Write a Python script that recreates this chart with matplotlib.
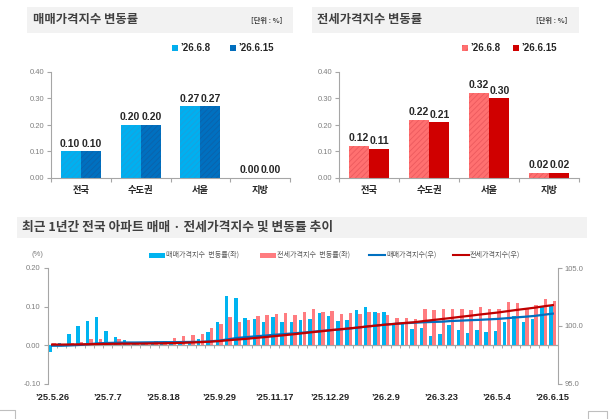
import numpy as np
import matplotlib
matplotlib.use("Agg")
import matplotlib.pyplot as plt
from matplotlib.patches import Rectangle
from matplotlib.lines import Line2D

plt.rcParams['font.family'] = ['Noto Sans CJK KR', 'DejaVu Sans']
plt.rcParams['hatch.linewidth'] = 0.6

W, H = 614, 419

# --- top charts data ---
regions = ["전국", "수도권", "서울", "지방"]
week_labels = ["’26.6.8", "’26.6.15"]
sale_prev = [0.10, 0.20, 0.27, 0.00]
sale_curr = [0.10, 0.20, 0.27, 0.00]
rent_prev = [0.12, 0.22, 0.32, 0.02]
rent_curr = [0.11, 0.21, 0.30, 0.02]

# --- bottom chart data (weekly, '25.5.26 ~ '26.6.15) ---
tick_idx = [0, 6, 12, 18, 24, 30, 36, 42, 48, 54]
tick_labels = ["’25.5.26", "’25.7.7", "’25.8.18", "’25.9.29", "’25.11.17",
               "’25.12.29", "’26.2.9", "’26.3.23", "’26.5.4", "’26.6.15"]
sale_chg = [-0.018, 0.005, 0.029, 0.049, 0.063, 0.073, 0.036, 0.021, 0.012, 0.005,
            0.009, 0.009, 0.008, 0.007, 0.006, 0.009, 0.016, 0.035, 0.059, 0.127,
            0.123, 0.070, 0.068, 0.060, 0.072, 0.059, 0.060, 0.064, 0.068, 0.082,
            0.075, 0.063, 0.065, 0.092, 0.098, 0.086, 0.085, 0.057, 0.057, 0.041,
            0.044, 0.023, 0.028, 0.052, 0.039, 0.032, 0.039, 0.034, 0.037, 0.061,
            0.075, 0.061, 0.068, 0.098, 0.101]
rent_chg = [0.005, 0.003, 0.005, 0.009, 0.015, 0.015, 0.007, 0.015, 0.005, 0.005,
            0.009, 0.010, 0.011, 0.019, 0.023, 0.026, 0.028, 0.044, 0.054, 0.074,
            0.061, 0.065, 0.076, 0.077, 0.081, 0.083, 0.078, 0.086, 0.094, 0.085,
            0.089, 0.081, 0.084, 0.081, 0.087, 0.082, 0.079, 0.070, 0.070, 0.067,
            0.093, 0.091, 0.094, 0.094, 0.093, 0.090, 0.100, 0.093, 0.093, 0.111,
            0.109, 0.096, 0.104, 0.120, 0.113]
sale_idx = [98.27, 98.27, 98.30, 98.34, 98.41, 98.48, 98.51, 98.53, 98.55, 98.55,
            98.56, 98.57, 98.58, 98.58, 98.59, 98.60, 98.61, 98.65, 98.71, 98.83,
            98.95, 99.02, 99.09, 99.15, 99.22, 99.28, 99.34, 99.40, 99.47, 99.55,
            99.62, 99.68, 99.75, 99.84, 99.94, 100.02, 100.11, 100.16, 100.22, 100.26,
            100.30, 100.33, 100.35, 100.41, 100.44, 100.48, 100.51, 100.55, 100.59, 100.65,
            100.72, 100.78, 100.85, 100.95, 101.05]
rent_idx = [98.37, 98.37, 98.38, 98.39, 98.40, 98.42, 98.43, 98.44, 98.45, 98.45,
            98.46, 98.47, 98.48, 98.50, 98.52, 98.55, 98.58, 98.62, 98.67, 98.75,
            98.81, 98.87, 98.95, 99.02, 99.10, 99.18, 99.26, 99.35, 99.44, 99.52,
            99.61, 99.69, 99.77, 99.85, 99.94, 100.02, 100.10, 100.17, 100.24, 100.30,
            100.40, 100.49, 100.58, 100.67, 100.77, 100.86, 100.96, 101.05, 101.14, 101.25,
            101.36, 101.46, 101.56, 101.68, 101.79]

GRAY = '#A6A6A6'
TXT = '#262626'
NUM_FONT = ['Liberation Sans Narrow', 'Liberation Sans', 'DejaVu Sans']


def fx(px):
    return px / W


def fy(py):
    return 1 - py / H


def px_axes(fig, x0, y0, x1, y1):
    return fig.add_axes([fx(x0), fy(y1), (x1 - x0) / W, (y1 - y0) / H])


fig = plt.figure(figsize=(W / 100, H / 100), dpi=100)


def title_bar(x0, x1, y0, y1, text, tx, size, unit=None, ux=None):
    fig.add_artist(Rectangle((fx(x0), fy(y1)), (x1 - x0) / W, (y1 - y0) / H,
                             transform=fig.transFigure, facecolor='#F2F2F2',
                             edgecolor='none', zorder=0))
    fig.text(fx(tx), fy((y0 + y1) / 2), text, fontsize=size, fontweight='bold',
             color='#404040', va='center', ha='left')
    if unit:
        fig.text(fx(ux), fy((y0 + y1) / 2), unit, fontsize=5.2, fontweight='bold',
                 color='#404040', va='center', ha='right')


def square_legend(items):
    for x, color, hatch_col, label in items:
        fig.add_artist(Rectangle((fx(x), fy(51)), 6 / W, 6 / H, transform=fig.transFigure,
                                 facecolor=color, edgecolor='none'))
        if hatch_col:
            fig.add_artist(Rectangle((fx(x), fy(51)), 6 / W, 6 / H, transform=fig.transFigure,
                                     facecolor='none', edgecolor=hatch_col, lw=0, hatch='////'))
        fig.text(fx(x + 8), fy(48), label, fontsize=7, fontweight='bold', color=TXT,
                 va='center', ha='left', family=NUM_FONT)


def hbar(ax, x, h, w, color, hatch_col):
    ax.bar(x, h, w, color=color, zorder=2)
    if hatch_col:
        ax.bar(x, h, w, facecolor='none', edgecolor=hatch_col, lw=0, hatch='//////', zorder=3)


def top_chart(ax, prev, curr, c1, h1, c2, h2):
    x = np.arange(len(regions))
    w = 1 / 3
    hbar(ax, x - w / 2, prev, w, c1, h1)
    hbar(ax, x + w / 2, curr, w, c2, h2)
    for xi, v in zip(x - w / 2, prev):
        ax.annotate(f"{v:.2f}", (xi, v), xytext=(-0.5, 2), textcoords='offset points',
                    ha='center', va='bottom', fontsize=7.5, fontweight='bold', color=TXT,
                    family=NUM_FONT)
    for xi, v in zip(x + w / 2, curr):
        ax.annotate(f"{v:.2f}", (xi, v), xytext=(0.5, 2), textcoords='offset points',
                    ha='center', va='bottom', fontsize=7.5, fontweight='bold', color=TXT,
                    family=NUM_FONT)
    ax.set_xlim(-0.5, 3.5)
    ax.set_ylim(0, 0.4)
    ax.set_yticks([0, 0.1, 0.2, 0.3, 0.4])
    ax.set_yticklabels([f"{t:.2f}" for t in [0, 0.1, 0.2, 0.3, 0.4]],
                       fontsize=5.5, color='#7F7F7F', family=NUM_FONT)
    ax.set_xticks(x)
    ax.set_xticklabels(regions, fontsize=6.7, fontweight='bold', color=TXT)
    ax.set_xticks([-0.5, 0.5, 1.5, 2.5, 3.5], minor=True)
    ax.tick_params(axis='x', which='major', length=0, pad=6)
    ax.tick_params(axis='x', which='minor', length=3, color=GRAY, width=0.8)
    ax.tick_params(axis='y', length=3, color=GRAY, width=0.8, pad=2)
    for s in ['top', 'right']:
        ax.spines[s].set_visible(False)
    for s in ['left', 'bottom']:
        ax.spines[s].set_color(GRAY)
        ax.spines[s].set_linewidth(0.8)
    ax.patch.set_alpha(0)


# ---- top-left: sales ----
title_bar(27, 293, 7, 33, "매매가격지수 변동률", 33, 8.9, "[단위 : %]", 282)
square_legend([(172, '#00B0F0', '#1CA0DC', week_labels[0]),
               (230, '#0070C0', '#0C62AA', week_labels[1])])
ax1 = px_axes(fig, 51, 72, 290, 178)
top_chart(ax1, sale_prev, sale_curr, '#00B0F0', '#1CA0DC', '#0070C0', '#0C62AA')

# ---- top-right: jeonse ----
title_bar(312, 579, 7, 33, "전세가격지수 변동률", 317, 8.9, "[단위 : %]", 567)
square_legend([(462, '#FF7070', '#EC5A5E', week_labels[0]),
               (513, '#D00000', None, week_labels[1])])
ax2 = px_axes(fig, 339, 72, 579, 178)
top_chart(ax2, rent_prev, rent_curr, '#FF7070', '#EC5A5E', '#D00000', None)

# ---- bottom: weekly trend ----
title_bar(17, 587, 217, 238, "최근 1년간 전국 아파트 매매 · 전세가격지수 및 변동률 추이", 22, 9.2)

ax = px_axes(fig, 47.5, 268, 557.5, 383.5)
n = len(sale_chg)
xs = np.arange(n)
bw = 0.37
ax.bar(xs - 0.19, sale_chg, bw, color='#00B4F0', zorder=2)
ax.bar(xs + 0.19, rent_chg, bw, color='#FF7C80', zorder=2)
ax.axhline(0, color=GRAY, lw=0.9, zorder=1)
ax.vlines(np.arange(n - 1) + 0.5, -0.008, 0, color=GRAY, lw=0.7, zorder=1)
ax.set_xlim(-0.5, n - 0.5)
ax.set_ylim(-0.1, 0.2)
ax.set_yticks([-0.1, 0, 0.1, 0.2])
ax.set_yticklabels(["-0.10", "0.00", "0.10", "0.20"], fontsize=5.5, color='#7F7F7F',
                   family=NUM_FONT)
ax.set_xticks(tick_idx)
ax.set_xticklabels(tick_labels, fontsize=6.7, fontweight='bold', color=TXT, family=NUM_FONT)
ax.tick_params(axis='x', length=0, pad=7)
ax.tick_params(axis='y', length=3, color=GRAY, width=0.8, pad=2)
for s in ['top', 'right', 'bottom']:
    ax.spines[s].set_visible(False)
ax.spines['left'].set_color(GRAY)
ax.spines['left'].set_linewidth(0.8)
fig.text(fx(37), fy(254), "(%)", fontsize=5.5, color='#7F7F7F', ha='center', va='center',
         family=NUM_FONT)

axr = ax.twinx()
axr.plot(xs, sale_idx, color='#0070C0', lw=1.6, zorder=3)
axr.plot(xs, rent_idx, color='#C00000', lw=1.6, zorder=4)
axr.set_ylim(95, 105)
axr.set_yticks([95, 100, 105])
axr.set_yticklabels(["95.0", "100.0", "105.0"], fontsize=5.5, color='#7F7F7F', family=NUM_FONT)
axr.tick_params(axis='y', length=3, color=GRAY, width=0.8, pad=2)
for s in ['top', 'left', 'bottom']:
    axr.spines[s].set_visible(False)
axr.spines['right'].set_color(GRAY)
axr.spines['right'].set_linewidth(0.8)

# legend for bottom chart
leg_y = 255
leg_items = [
    ('bar', '#00B4F0', 149, "매매가격지수  변동률(좌)"),
    ('bar', '#FF7C80', 260, "전세가격지수  변동률(좌)"),
    ('line', '#0070C0', 369, "매매가격지수(우)"),
    ('line', '#C00000', 453, "전세가격지수(우)"),
]
for kind, color, x0, label in leg_items:
    if kind == 'bar':
        fig.add_artist(Rectangle((fx(x0), fy(leg_y + 2.5)), 16 / W, 5 / H,
                                 transform=fig.transFigure, facecolor=color, edgecolor='none'))
    else:
        fig.add_artist(Line2D([fx(x0), fx(x0 + 16)], [fy(leg_y), fy(leg_y)],
                              transform=fig.transFigure, color=color, lw=1.5))
    fig.text(fx(x0 + 17), fy(leg_y), label, fontsize=5.1, color='#595959', ha='left', va='center')

# screenshot frame remnants at the bottom corners
for xs_, ys_ in [([0, 15, 15], [410, 410, 419]), ([588, 588, 607, 607], [419, 411, 411, 419])]:
    fig.add_artist(Line2D([fx(v) for v in xs_], [fy(v) for v in ys_],
                          transform=fig.transFigure, color='#BFBFBF', lw=0.8))

fig.savefig("out.png", dpi=100)
